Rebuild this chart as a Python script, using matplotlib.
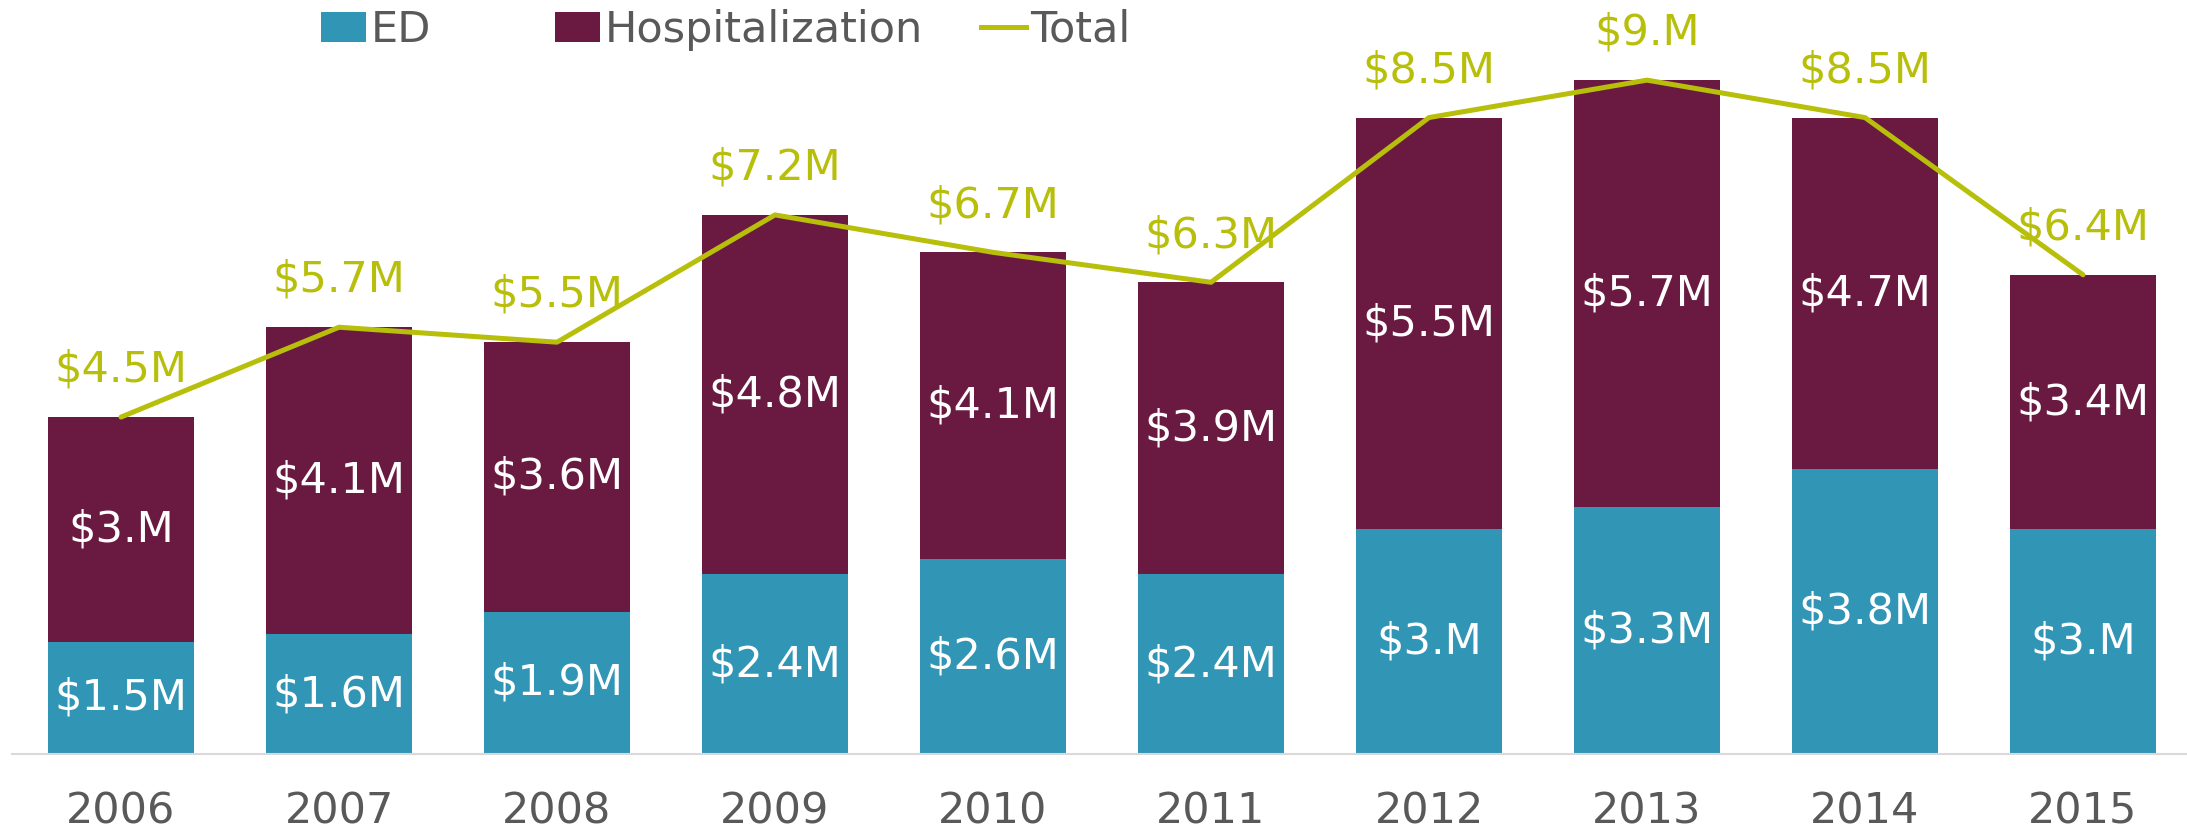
import matplotlib
matplotlib.use("Agg")
import matplotlib.pyplot as plt
from matplotlib.patches import Patch
from matplotlib.lines import Line2D
import numpy as np

# Yearly costs, in millions of dollars
years = ["2006", "2007", "2008", "2009", "2010", "2011", "2012", "2013", "2014", "2015"]
ed_cost = [1.5, 1.6, 1.9, 2.4, 2.6, 2.4, 3.0, 3.3, 3.8, 3.0]
hosp_cost = [3.0, 4.1, 3.6, 4.8, 4.1, 3.9, 5.5, 5.7, 4.7, 3.4]
total_cost = [4.5, 5.7, 5.5, 7.2, 6.7, 6.3, 8.5, 9.0, 8.5, 6.4]

ED_COLOR = "#3195B5"
HOSP_COLOR = "#6A1A41"
TOTAL_COLOR = "#B8BF0A"
TEXT_GRAY = "#595959"
FS = 31


def money(v):
    # "$3.M" style: one decimal, trailing zero dropped but dot kept
    s = f"{v:.1f}"
    if s.endswith("0"):
        s = s[:-1]
    return f"${s}M"


def main():
    fig = plt.figure(figsize=(21.87, 8.33), dpi=100)
    ax = fig.add_axes([12 / 2187, 0.0948, 1 - 12 / 2187, 1 - 0.0948])

    x = np.arange(len(years))
    width = 0.67
    ax.bar(x, ed_cost, width, color=ED_COLOR)
    ax.bar(x, hosp_cost, width, bottom=ed_cost, color=HOSP_COLOR)
    ax.plot(x, total_cost, color=TOTAL_COLOR, linewidth=3.6, solid_capstyle="round")

    # Segment labels
    for i in range(len(years)):
        ax.text(x[i], ed_cost[i] / 2, money(ed_cost[i]), ha="center", va="center",
                color="white", fontsize=FS)
        ax.text(x[i], ed_cost[i] + hosp_cost[i] / 2, money(hosp_cost[i]), ha="center",
                va="center", color="white", fontsize=FS)
        ax.annotate(money(total_cost[i]), (x[i], total_cost[i]), xytext=(0, 34),
                    textcoords="offset points", ha="center", va="center",
                    color=TOTAL_COLOR, fontsize=FS)

    ax.set_xlim(-0.5, 9.477)
    ax.set_ylim(0, 10.07)
    ax.set_xticks(x)
    ax.set_xticklabels(years, fontsize=FS, color=TEXT_GRAY)
    ax.tick_params(axis="x", length=0, pad=26)
    ax.set_yticks([])
    for side in ["top", "right", "left"]:
        ax.spines[side].set_visible(False)
    ax.spines["bottom"].set_color("#D9D9D9")
    ax.spines["bottom"].set_linewidth(1.5)

    # Legend entries placed one by one along the top
    entries = [
        (Patch(facecolor=ED_COLOR), "ED", 321),
        (Patch(facecolor=HOSP_COLOR), "Hospitalization", 555),
        (Line2D([0], [0], color=TOTAL_COLOR, linewidth=3.6), "Total", 981),
    ]
    for handle, label, px in entries:
        leg = fig.legend([handle], [label], loc="center left",
                         bbox_to_anchor=(px / 2187, 1 - 30 / 833), frameon=False,
                         fontsize=FS, handlelength=1.05, handleheight=0.7,
                         handletextpad=0.1, borderpad=0, borderaxespad=0)
        for t in leg.get_texts():
            t.set_color(TEXT_GRAY)

    fig.savefig("out.png", dpi=100)


if __name__ == "__main__":
    main()
